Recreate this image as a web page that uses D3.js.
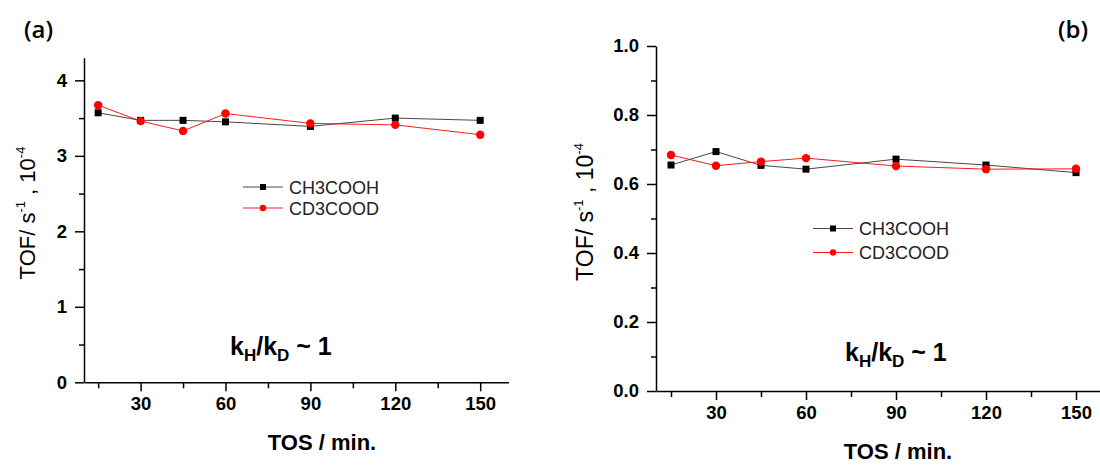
<!doctype html>
<html>
<head>
<meta charset="utf-8">
<script src="https://d3js.org/d3.v7.min.js"></script>
<style>
  body { margin: 0; background: white; }
  svg { font-family: "Liberation Sans", Arial, sans-serif; }
  .axis path, .axis line { stroke: black; stroke-width: 1.5px; }
  .minor line { stroke: black; stroke-width: 1.5px; }
  .minor path { display: none; }
  .leg text { font-size: 18px; fill: #222; }
</style>
</head>
<body>
<svg width="1100" height="466"></svg>
<script>
// time on stream (min)
var tos = [15, 30, 45, 60, 90, 120, 150];
var xTicks = [30, 60, 90, 120, 150];
var xMinor = [15, 45, 75, 105, 135];

// panel (a) TOF values, 10^-4 s^-1
var ch3A = [3.57, 3.47, 3.47, 3.45, 3.39, 3.50, 3.47];
var cd3A = [3.67, 3.46, 3.33, 3.56, 3.43, 3.41, 3.28];
var yTicksA = [0, 1, 2, 3, 4];
var yMinorA = [0.5, 1.5, 2.5, 3.5];

// panel (b)
var ch3B = [0.655, 0.694, 0.654, 0.643, 0.672, 0.655, 0.633];
var cd3B = [0.684, 0.653, 0.665, 0.675, 0.652, 0.643, 0.644];
var yTicksB = [0, 0.2, 0.4, 0.6, 0.8, 1.0];
var yMinorB = [0.1, 0.3, 0.5, 0.7, 0.9];

var seriesNames = ["CH3COOH", "CD3COOD"];

var svg = d3.select("svg");

function styleAxis(sel) {
  sel.attr("font-family", "'Liberation Sans', Arial, sans-serif")
    .attr("font-size", 18.5).attr("font-weight", "bold");
  sel.selectAll("text").attr("fill", "black");
}

function panel(o) {
  var x = d3.scaleLinear().domain([10, 160]).range(o.xr);
  var y = d3.scaleLinear().domain(o.yd).range(o.yr);
  var g = svg.append("g");

  // minor ticks first
  g.append("g").attr("class", "minor")
    .attr("transform", "translate(0," + o.yr[0] + ")")
    .call(d3.axisBottom(x).tickValues(xMinor).tickSize(6).tickFormat(""));
  g.append("g").attr("class", "minor")
    .attr("transform", "translate(" + o.xr[0] + ",0)")
    .call(d3.axisLeft(y).tickValues(o.ym).tickSize(5).tickFormat(""));

  g.append("g").attr("class", "axis")
    .attr("transform", "translate(0," + o.yr[0] + ")")
    .call(d3.axisBottom(x).tickValues(xTicks).tickSize(9).tickSizeOuter(0).tickPadding(6))
    .call(styleAxis);
  g.append("g").attr("class", "axis")
    .attr("transform", "translate(" + o.xr[0] + ",0)")
    .call(d3.axisLeft(y).tickValues(o.yt).tickSize(9).tickSizeOuter(0).tickPadding(8)
      .tickFormat(o.fmt))
    .call(styleAxis);

  var line = d3.line().x(function (d, i) { return x(tos[i]); }).y(function (d) { return y(d); });

  g.append("path").datum(o.h).attr("d", line)
    .attr("fill", "none").attr("stroke", "#333").attr("stroke-width", 0.9);
  g.append("path").datum(o.d).attr("d", line)
    .attr("fill", "none").attr("stroke", "#f00").attr("stroke-width", 0.9);

  g.selectAll(".sq").data(o.h).enter().append("rect")
    .attr("x", function (d, i) { return x(tos[i]) - 3.5; })
    .attr("y", function (d) { return y(d) - 3.5; })
    .attr("width", 7).attr("height", 7).attr("fill", "black");
  g.selectAll(".ci").data(o.d).enter().append("circle")
    .attr("cx", function (d, i) { return x(tos[i]); })
    .attr("cy", function (d) { return y(d); })
    .attr("r", 4.2).attr("fill", "#f00");

  // legend
  var leg = g.append("g").attr("class", "leg");
  seriesNames.forEach(function (name, i) {
    var ly = o.leg[1] + i * o.leg[2];
    var col = i === 0 ? "#333" : "#f00";
    leg.append("line").attr("x1", o.leg[0]).attr("x2", o.leg[0] + 40)
      .attr("y1", ly).attr("y2", ly).attr("stroke", col).attr("stroke-width", 0.9);
    if (i === 0) {
      leg.append("rect").attr("x", o.leg[0] + 17).attr("y", ly - 3)
        .attr("width", 6).attr("height", 6).attr("fill", "black");
    } else {
      leg.append("circle").attr("cx", o.leg[0] + 20).attr("cy", ly).attr("r", 3.2).attr("fill", "#f00");
    }
    leg.append("text").attr("x", o.leg[0] + 46).attr("y", ly + 6.5).text(name);
  });

  // kH/kD annotation
  var k = g.append("text").attr("x", o.k[0]).attr("y", o.k[1])
    .attr("font-size", 25).attr("font-weight", "bold");
  k.append("tspan").text("k");
  k.append("tspan").attr("font-size", 17).attr("dy", 6).text("H");
  k.append("tspan").attr("dy", -6).text("/k");
  k.append("tspan").attr("font-size", 17).attr("dy", 6).text("D");
  k.append("tspan").attr("dy", -6).text(" ~ 1");

  // axis titles
  g.append("text").attr("x", o.xt[0]).attr("y", o.xt[1])
    .attr("text-anchor", "middle").attr("font-size", 22).attr("font-weight", "bold")
    .text("TOS / min.");

  var t = g.append("text")
    .attr("transform", "translate(" + o.yt2[0] + "," + o.yt2[1] + ") rotate(-90)")
    .attr("text-anchor", "middle").attr("font-size", o.yt2[2]);
  t.append("tspan").text("TOF/ s");
  t.append("tspan").attr("font-size", 13).attr("dy", -10).text("-1");
  t.append("tspan").attr("dy", 10).text(" , 10");
  t.append("tspan").attr("font-size", 13).attr("dy", -10).text("-4");

  g.append("text").attr("x", o.lab[0]).attr("y", o.lab[1])
    .attr("font-size", 24).attr("font-weight", 600)
    .attr("font-family", "'Open Sans', sans-serif").text(o.lab[2]);
}

panel({
  xr: [84, 508.5], yd: [0, 4.3], yr: [382.3, 57.7],
  yt: yTicksA, ym: yMinorA, fmt: d3.format("d"),
  h: ch3A, d: cd3A,
  leg: [243, 187, 21],
  k: [230, 355],
  xt: [322, 450],
  yt2: [35, 213, 22],
  lab: [24, 38, "(a)"]
});

panel({
  xr: [656, 1106], yd: [0, 1], yr: [391, 46],
  yt: yTicksB, ym: yMinorB, fmt: d3.format(".1f"),
  h: ch3B, d: cd3B,
  leg: [813, 228.5, 24],
  k: [845, 361],
  xt: [898, 459],
  yt2: [593, 212, 23],
  lab: [1058, 38, "(b)"]
});
</script>
</body>
</html>
